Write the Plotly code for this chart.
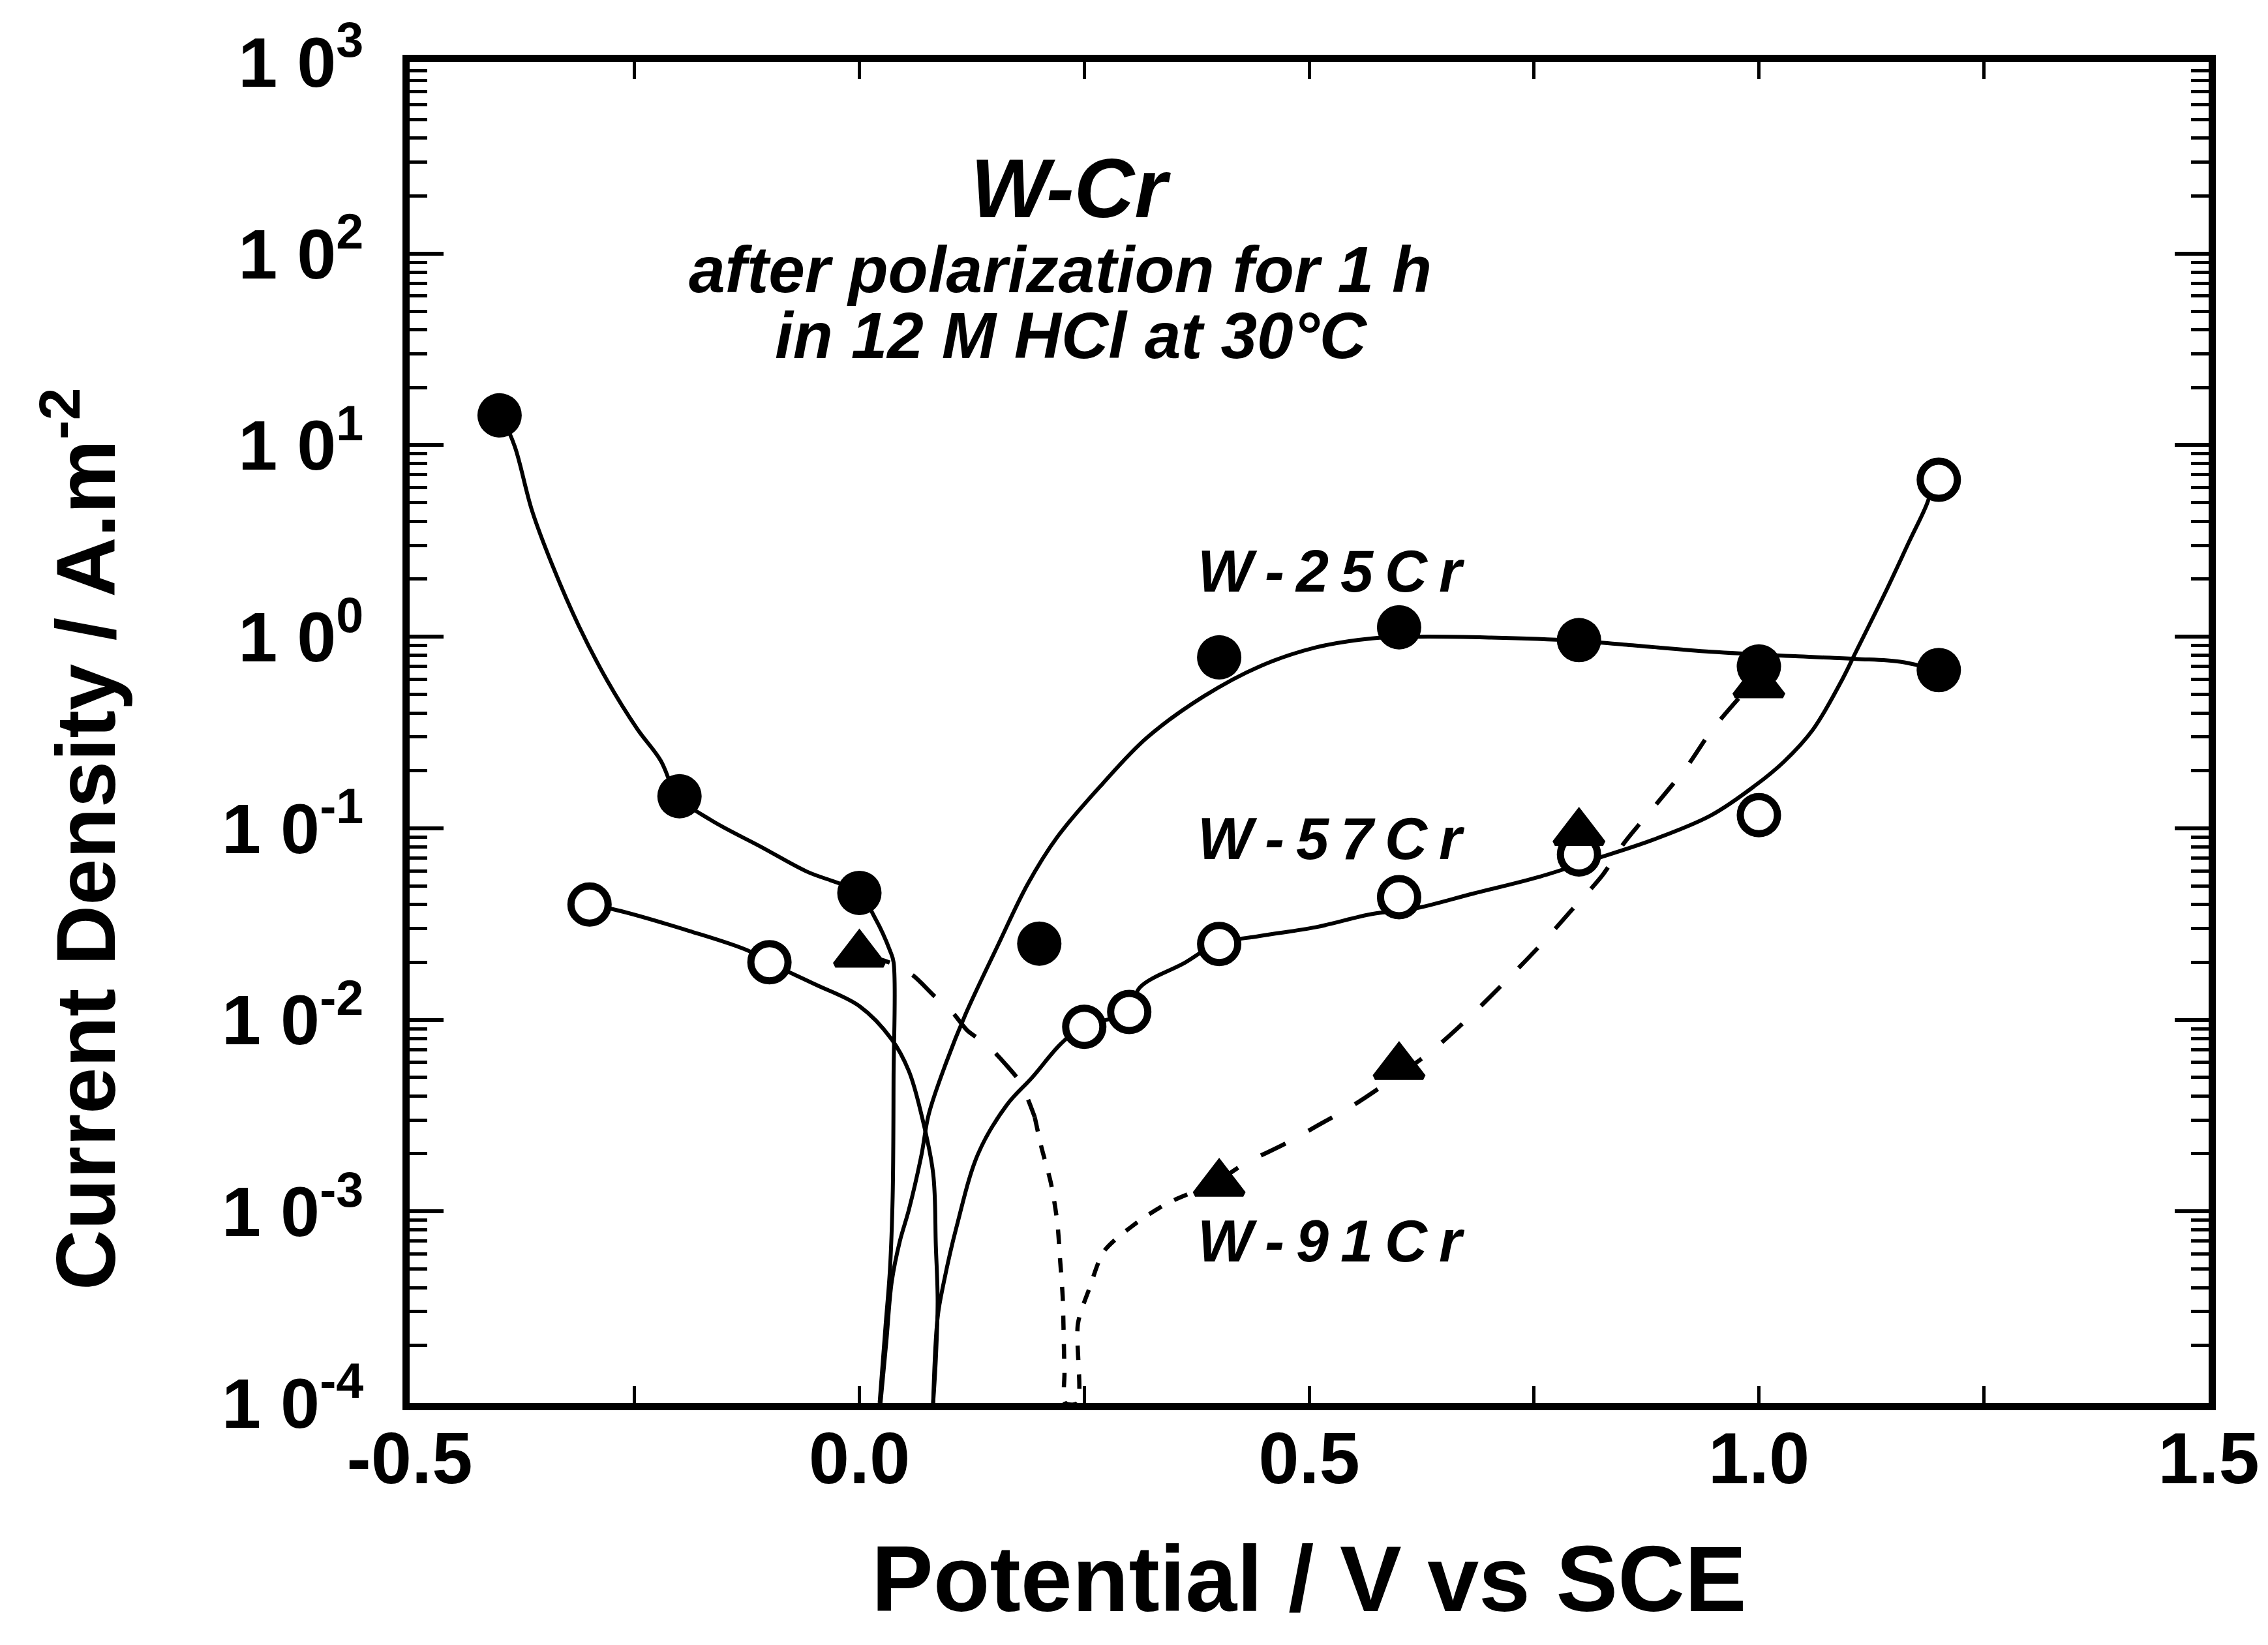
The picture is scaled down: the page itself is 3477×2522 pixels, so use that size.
import plotly.graph_objects as go

# ---------------- data ----------------
# measured points
x_w25 = [-0.4, -0.2, 0.0, 0.2, 0.4, 0.6, 0.8, 1.0, 1.2]
y_w25 = [14.3, 0.147, 0.046, 0.025, 0.78, 1.12, 0.96, 0.70, 0.67]

x_w57 = [-0.3, -0.1, 0.25, 0.3, 0.4, 0.6, 0.8, 1.0, 1.2]
y_w57 = [0.040, 0.020, 0.0092, 0.011, 0.0249, 0.0437, 0.073, 0.117, 6.6]

x_w91 = [0.0, 0.4, 0.6, 0.8, 1.0]
y_w91 = [0.022, 0.0014, 0.0057, 0.095, 0.56]

# hand-drawn curves
c25_cath_x = [-0.398, -0.383, -0.364, -0.341, -0.312, -0.280, -0.247, -0.221, -0.202,
              -0.166, -0.108, -0.059, -0.001, 0.018, 0.034, 0.038, 0.038, 0.037, 0.034, 0.029, 0.0225]
c25_cath_y = [14.3, 9.8, 4.56, 2.34, 1.14, 0.586, 0.330, 0.226, 0.147,
              0.111, 0.0794, 0.0596, 0.0459, 0.0336, 0.023, 0.02, 0.005, 0.0012, 5e-4, 2.5e-4, 1e-4]

c25_anod_x = [0.0235, 0.030, 0.036, 0.045, 0.055, 0.069, 0.077, 0.096, 0.118, 0.154, 0.187,
              0.220, 0.270, 0.320, 0.383, 0.445, 0.508, 0.570, 0.620, 0.700, 0.793, 0.850,
              0.947, 1.044, 1.108, 1.157, 1.195]
c25_anod_y = [1e-4, 2.1e-4, 4.3e-4, 7e-4, 1.02e-3, 1.97e-3, 3.2e-3, 5.9e-3, 0.0107, 0.0245, 0.051,
              0.090, 0.170, 0.298, 0.489, 0.70, 0.88, 0.98, 1.0, 0.99, 0.955, 0.91,
              0.834, 0.79, 0.766, 0.74, 0.675]

c57_cath_x = [-0.302, -0.276, -0.189, -0.124, -0.101, -0.049, 0.0, 0.036, 0.055, 0.069,
              0.082, 0.085, 0.087, 0.085, 0.082]
c57_cath_y = [0.0398, 0.038, 0.0291, 0.023, 0.020, 0.0153, 0.0118, 0.0079, 0.0054, 0.0032,
              1.58e-3, 6.6e-4, 3.4e-4, 1.7e-4, 1e-4]

c57_anod_x = [0.082, 0.087, 0.094, 0.108, 0.132, 0.164, 0.192, 0.224, 0.248, 0.298, 0.312,
              0.362, 0.397, 0.445, 0.508, 0.570, 0.616, 0.683, 0.757, 0.813, 0.882, 0.947,
              0.995, 1.028, 1.060, 1.092, 1.108, 1.141, 1.167, 1.187, 1.195]
c57_anod_y = [1e-4, 2.8e-4, 4.3e-4, 8.3e-4, 2.0e-3, 3.6e-3, 5.0e-3, 7.5e-3, 0.0092, 0.011, 0.0148,
              0.0199, 0.0249, 0.0274, 0.0305, 0.0357, 0.038, 0.0457, 0.056, 0.068, 0.087, 0.117,
              0.166, 0.223, 0.327, 0.59, 0.836, 1.72, 3.13, 4.96, 6.59]

c91_a_x = [0.0, 0.035, 0.060, 0.082, 0.103, 0.120, 0.142, 0.162, 0.179, 0.195]
c91_a_y = [0.022, 0.0198, 0.017, 0.0135, 0.011, 0.0088, 0.0074, 0.0059, 0.0047, 0.0031]

c91_b_x = [0.195, 0.202, 0.213, 0.220, 0.223, 0.226, 0.227, 0.228, 0.229,
           0.242, 0.243, 0.256, 0.272, 0.305, 0.342, 0.396]
c91_b_y = [0.0031, 0.0022, 0.0014, 8.8e-4, 5.7e-4, 3.6e-4, 2.4e-4, 1.45e-4, 1e-4,
           1e-4, 2.6e-4, 4.0e-4, 6.2e-4, 8.5e-4, 1.1e-3, 1.4e-3]

c91_c_x = [0.396, 0.427, 0.472, 0.509, 0.551, 0.595, 0.635, 0.676, 0.716, 0.757, 0.790,
           0.826, 0.850, 0.889, 0.921, 0.948, 0.990]
c91_c_y = [0.0014, 1.76e-3, 2.24e-3, 2.8e-3, 3.63e-3, 5.0e-3, 6.8e-3, 0.0101, 0.0155, 0.0245, 0.0366,
           0.0568, 0.0836, 0.139, 0.213, 0.327, 0.555]

x_tickvals = [-0.5, 0.0, 0.5, 1.0, 1.5]
x_ticktext = ["-0.5", "0.0", "0.5", "1.0", "1.5"]
y_tickvals = [1e-4, 1e-3, 1e-2, 1e-1, 1e0, 1e1, 1e2, 1e3]
y_exponents = ["-4", "-3", "-2", "-1", "0", "1", "2", "3"]

FONT = "Liberation Sans, Arial, Helvetica, sans-serif"

fig = go.Figure()


def add_line(x, y, dash="solid", width=6, smoothing=1.0):
    fig.add_trace(go.Scatter(
        x=x, y=y, mode="lines",
        line=dict(color="black", width=width, dash=dash, shape="spline", smoothing=smoothing),
        hoverinfo="skip", showlegend=False))


add_line(c25_cath_x, c25_cath_y)
add_line(c25_anod_x, c25_anod_y)
add_line(c57_cath_x, c57_cath_y)
add_line(c57_anod_x, c57_anod_y)
add_line(c91_a_x, c91_a_y, dash="48px,40px", width=6.5, smoothing=0.8)
add_line(c91_b_x, c91_b_y, dash="22px,22px", width=6.5, smoothing=0.8)
add_line(c91_c_x, c91_c_y, dash="42px,40px", width=6.5, smoothing=0.8)

fig.add_trace(go.Scatter(
    x=x_w25, y=y_w25, mode="markers", name="W-25Cr",
    marker=dict(symbol="circle", size=68, color="black", line=dict(width=0)),
    showlegend=False))
fig.add_trace(go.Scatter(
    x=x_w57, y=y_w57, mode="markers", name="W-57Cr",
    marker=dict(symbol="circle", size=57, color="white", line=dict(width=11, color="black")),
    showlegend=False))
fig.add_trace(go.Scatter(
    x=x_w91, y=y_w91, mode="markers", name="W-91Cr",
    marker=dict(symbol="triangle-up", size=64, color="black", line=dict(width=9, color="black")),
    showlegend=False))

y_ticktext = ["<b>1 0<sup>%s</sup></b>" % e for e in y_exponents]

fig.update_layout(
    width=3477, height=2522,
    margin=dict(l=628, r=91, t=95, b=371),
    paper_bgcolor="white", plot_bgcolor="white",
    font=dict(family=FONT, color="black"),
    showlegend=False,
    xaxis=dict(
        range=[-0.5, 1.5], tickmode="array", tickvals=x_tickvals,
        ticktext=["<b>%s</b>" % t for t in x_ticktext],
        ticks="inside", ticklen=26, tickwidth=5, tickcolor="black",
        showline=True, linewidth=11, linecolor="black", mirror="ticks",
        showgrid=False, zeroline=False, ticklabelstandoff=-22,
        tickfont=dict(family=FONT, size=112, color="black"),
        minor=dict(dtick=0.25, ticks="inside", ticklen=26, tickwidth=5,
                   tickcolor="black", showgrid=False),
    ),
    yaxis=dict(
        type="log", range=[-4, 3], tickmode="array", tickvals=y_tickvals,
        ticktext=y_ticktext,
        ticks="inside", ticklen=52, tickwidth=6, tickcolor="black",
        showline=True, linewidth=11, linecolor="black", mirror="ticks",
        showgrid=False, zeroline=False, ticklabelstandoff=38,
        tickfont=dict(family=FONT, size=108, color="black"),
        minor=dict(dtick="D1", ticks="inside", ticklen=27, tickwidth=5,
                   tickcolor="black", showgrid=False),
    ),
)

annotations = [
    dict(text="<b>Potential / V vs SCE</b>", x=0.5, y=-0.131, xanchor="center", yanchor="middle",
         font=dict(size=142)),
    dict(text="<b>Current Density / A.m<sup>-2</sup></b>", x=-0.1835, y=0.4207,
         xanchor="center", yanchor="middle", textangle=-90, font=dict(size=128)),
    dict(text="<b><i>W-Cr</i></b>", x=0.3673, y=0.906, xanchor="center", yanchor="middle",
         font=dict(size=128)),
    dict(text="<b><i>after polarization for 1 h</i></b>", x=0.3615, y=0.8454,
         xanchor="center", yanchor="middle", font=dict(size=100)),
    dict(text="<b><i>in 12 M HCl at 30°C</i></b>", x=0.3680, y=0.796,
         xanchor="center", yanchor="middle", font=dict(size=100)),
    dict(text="<b><i>W\u2009-\u20092\u20095\u2009C\u2009r</i></b>", x=0.4373, y=0.620,
         xanchor="left", yanchor="middle", font=dict(size=90)),
    dict(text="<b><i>W\u2009-\u20095\u20097\u2009C\u2009r</i></b>", x=0.4373, y=0.4207,
         xanchor="left", yanchor="middle", font=dict(size=90)),
    dict(text="<b><i>W\u2009-\u20099\u20091\u2009C\u2009r</i></b>", x=0.4373, y=0.1206,
         xanchor="left", yanchor="middle", font=dict(size=90)),
]
for a in annotations:
    a.update(xref="paper", yref="paper", showarrow=False)
    a["font"].update(family=FONT, color="black")
fig.update_layout(annotations=annotations)

fig.write_html("out.html")
